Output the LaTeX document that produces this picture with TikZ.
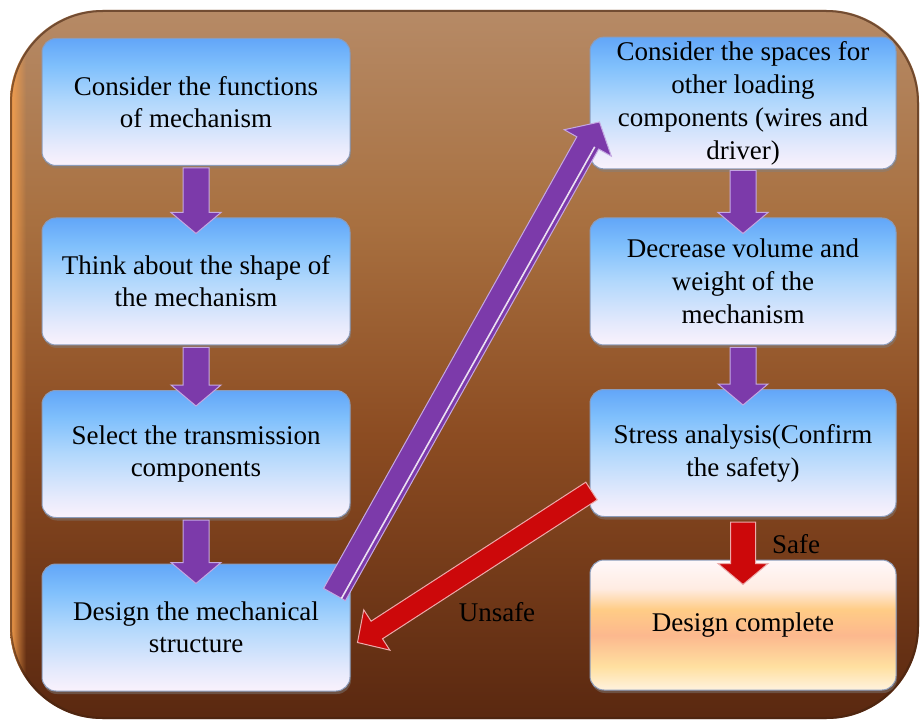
\documentclass[tikz,border=0pt]{standalone}
\usepackage{fontspec}
\setmainfont{Liberation Serif}
\usetikzlibrary{calc,shadows,fadings}

% palette
\definecolor{bgTop}{RGB}{182,138,102}
\definecolor{bgUp}{RGB}{168,112,64}
\definecolor{bgMid}{RGB}{140,76,34}
\definecolor{bgBot}{RGB}{90,40,16}
\definecolor{bgRim}{RGB}{70,36,16}
\definecolor{bgGlow}{RGB}{246,160,78}
\definecolor{bxA}{RGB}{98,166,248}
\definecolor{bxA2}{RGB}{128,192,252}
\definecolor{bxB}{RGB}{178,216,252}
\definecolor{bxB2}{RGB}{230,234,252}
\definecolor{bxC}{RGB}{250,242,252}
\definecolor{bxEdge}{RGB}{140,156,186}
\definecolor{okA}{RGB}{255,248,250}
\definecolor{okB}{RGB}{255,236,226}
\definecolor{okC}{RGB}{255,204,134}
\definecolor{okD}{RGB}{252,184,142}
\definecolor{okE}{RGB}{255,224,160}
\definecolor{okF}{RGB}{255,242,222}
\definecolor{arPurple}{RGB}{124,58,170}
\definecolor{arPurpleEdge}{RGB}{196,168,226}
\definecolor{arRed}{RGB}{204,8,10}
\definecolor{arRedEdge}{RGB}{236,170,170}

\pgfdeclareverticalshading{panel}{100bp}{color(0bp)=(bgBot); color(25bp)=(bgBot);
  color(45bp)=(bgMid); color(60bp)=(bgUp); color(75bp)=(bgTop); color(100bp)=(bgTop)}
\pgfdeclareverticalshading{stepblue}{100bp}{color(0bp)=(bxC); color(25bp)=(bxC);
  color(33bp)=(bxB2); color(50bp)=(bxB); color(64bp)=(bxA2); color(75bp)=(bxA); color(100bp)=(bxA)}
\pgfdeclareverticalshading{steppeach}{100bp}{color(0bp)=(okF); color(25bp)=(okF);
  color(34bp)=(okE); color(46bp)=(okD); color(56bp)=(okC); color(64bp)=(okB);
  color(75bp)=(okA); color(100bp)=(okA)}

\tikzset{
  stepbox/.style={rounded corners=14pt, minimum width=308pt, minimum height=127pt,
    inner sep=4pt, align=center, draw=bxEdge, line width=1pt, shading=stepblue,
    font=\fontsize{27pt}{32pt}\selectfont,
    drop shadow={shadow xshift=1pt, shadow yshift=-3pt, opacity=0.45}},
  rightbox/.style={stepbox, minimum width=306pt, font=\fontsize{27pt}{33pt}\selectfont},
  donebox/.style={rightbox, shading=steppeach},
  purplearrow/.style={fill=arPurple, draw=arPurpleEdge, line width=1pt, line join=miter},
  redarrow/.style={fill=arRed, draw=arRedEdge, line width=1pt, line join=miter},
  gloss/.style={draw=white, line width=1.6pt, opacity=0.85},
  tag/.style={font=\fontsize{27pt}{32pt}\selectfont, text=black}
}

% block arrow: style, from, to, half shaft width, half head width, head length
\newcommand{\blockarrow}[6]{%
  \coordinate (ba-s) at (#2);
  \coordinate (ba-t) at (#3);
  \coordinate (ba-h) at ($(ba-t)!#6!(ba-s)$);
  \filldraw[#1] ($(ba-s)!#4!90:(ba-t)$) -- ($(ba-h)!#4!90:(ba-t)$)
    -- ($(ba-h)!#5!90:(ba-t)$) -- (ba-t) -- ($(ba-h)!#5!-90:(ba-t)$)
    -- ($(ba-h)!#4!-90:(ba-t)$) -- ($(ba-s)!#4!-90:(ba-t)$) -- cycle;
}

\begin{document}
\begin{tikzpicture}[x=1pt, y=-1pt]
\useasboundingbox (0,0) rectangle (922,722);

% panel
\path[shading=panel, rounded corners=92pt] (10,10) rectangle (919,719);
\begin{scope}
  \clip[rounded corners=92pt] (10,10) rectangle (919,719);
  \fill[bgGlow, path fading=east] (10,10) rectangle (26,719);
\end{scope}
\draw[bgRim, line width=2pt, opacity=0.6, rounded corners=92pt] (11,11) rectangle (918,718);

% steps
\node[stepbox] (b1) at (196,102) {Consider the functions\\of mechanism};
\node[stepbox] (b2) at (196,281.5) {Think about the shape of\\the mechanism};
\node[stepbox] (b3) at (196,454) {Select the transmission\\components};
\node[stepbox] (b4) at (196,627.5) {Design the mechanical\\structure};

\node[rightbox] (r1) at (743,103) {Consider the spaces for\\other loading\\components (wires and\\driver)};
\node[rightbox] (r2) at (743,281.5) {Decrease volume and\\weight of the\\mechanism};
\node[rightbox] (r3) at (743,453) {Stress analysis(Confirm\\the safety)};
\node[donebox, minimum height=130pt] (r4) at (743,625) {Design complete};

% flow arrows
\blockarrow{purplearrow}{$(b1.south)+(0,2)$}{$(b2.north)+(0,16)$}{13pt}{25pt}{21pt}
\blockarrow{purplearrow}{$(b2.south)+(0,2)$}{$(b3.north)+(0,16)$}{13pt}{25pt}{21pt}
\blockarrow{purplearrow}{$(b3.south)+(0,2)$}{$(b4.north)+(0,20)$}{13pt}{25pt}{21pt}
\blockarrow{purplearrow}{$(b4.north east)+(-16,31)$}{$(r1.west)+(10,19)$}{12.5pt}{27pt}{24pt}
\draw[gloss] ($(ba-s)!8pt!-90:(ba-t)$) -- ($(ba-h)!8pt!-90:(ba-t)$);
\blockarrow{purplearrow}{$(r1.south)+(0,1)$}{$(r2.north)+(0,16)$}{13pt}{25pt}{21pt}
\blockarrow{purplearrow}{$(r2.south)+(0,2)$}{$(r3.north)+(0,16)$}{13pt}{25pt}{21pt}
\blockarrow{redarrow}{$(r3.south)+(0,5)$}{$(r4.north)+(0,25)$}{12.5pt}{25pt}{21pt}
\blockarrow{redarrow}{$(r3.west)+(2,38)$}{$(b4.east)+(7,15)$}{10.5pt}{24pt}{23pt}

% branch labels
\node[tag] (safe) at (796,544) {Safe};
\node[tag] (unsafe) at (497,612) {Unsafe};
\end{tikzpicture}
\end{document}
